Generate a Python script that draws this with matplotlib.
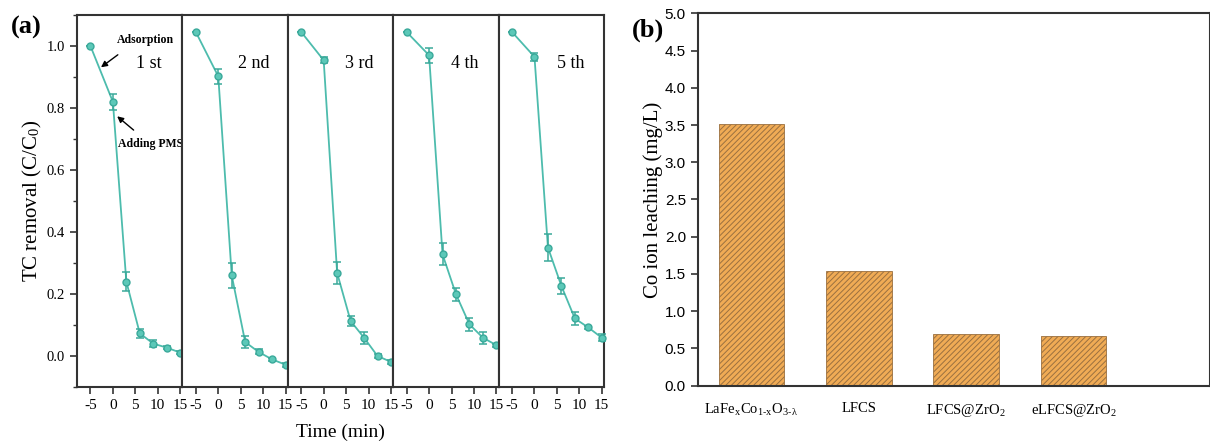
import matplotlib
matplotlib.use('Agg')
import matplotlib.pyplot as plt
import numpy as np

plt.rcParams['font.family'] = ['Liberation Serif', 'DejaVu Serif']
plt.rcParams['mathtext.fontset'] = 'stix'
plt.rcParams['axes.unicode_minus'] = False
plt.rcParams['hatch.color'] = '#d8903e'
plt.rcParams['hatch.linewidth'] = 0.7

# (a) cycling data
times = [-5, 0, 3, 6, 9, 12, 15]
cycle_labels = ['1 st', '2 nd', '3 rd', '4 th', '5 th']
run1 = [1.0, 0.82, 0.24, 0.073, 0.04, 0.027, 0.011]
run2 = [1.045, 0.902, 0.26, 0.045, 0.013, -0.011, -0.028]
run3 = [1.045, 0.954, 0.268, 0.113, 0.059, 0.0, -0.019]
run4 = [1.045, 0.97, 0.328, 0.199, 0.102, 0.059, 0.035]
run5 = [1.045, 0.965, 0.35, 0.226, 0.121, 0.092, 0.059]
err1 = [0.0, 0.025, 0.03, 0.015, 0.012, 0.005, 0.005]
err2 = [0.0, 0.025, 0.04, 0.02, 0.008, 0.005, 0.007]
err3 = [0.0, 0.01, 0.035, 0.015, 0.02, 0.005, 0.007]
err4 = [0.0, 0.025, 0.035, 0.02, 0.02, 0.02, 0.005]
err5 = [0.0, 0.012, 0.045, 0.025, 0.02, 0.005, 0.012]
runs = [run1, run2, run3, run4, run5]
errs = [err1, err2, err3, err4, err5]

# (b) leaching data
catalysts = [r'LaFe$_\mathregular{x}$Co$_\mathregular{1\text{-}x}$O$_\mathregular{3\text{-}\lambda}$',
             'LFCS', r'LFCS@ZrO$_\mathregular{2}$', r'eLFCS@ZrO$_\mathregular{2}$']
leaching = [3.51, 1.54, 0.70, 0.67]

line_col = '#4dbcad'
mk_col = '#3aa99a'
spine_col = '#333333'

fig = plt.figure(figsize=(12.1, 4.41), dpi=100)

left0 = 77 / 1210
pw = 105.4 / 1210
bot = 1 - 387 / 441
h = (387 - 15) / 441

axes_a = []
for i in range(5):
	ax = fig.add_axes([left0 + i * pw, bot, pw, h])
	ax.plot(times, runs[i], color=line_col, lw=1.3, zorder=2)
	ax.errorbar(times, runs[i], yerr=errs[i], fmt='o', color=mk_col, ms=5,
		mfc='#5cc8b8', mec=mk_col, ecolor=mk_col, elinewidth=1.1, capsize=3, capthick=1.1,
		clip_on=False, zorder=3)
	ax.set_xlim(-8, 15.5)
	ax.set_ylim(-0.1, 1.1)
	ax.set_xticks([-5, 0, 5, 10, 15])
	ax.tick_params(axis='x', direction='out', length=5, width=1.2, labelsize=11, colors=spine_col, labelcolor='black')
	if i == 0:
		ax.set_yticks(np.arange(0, 1.01, 0.2))
		ax.set_yticks(np.arange(-0.1, 1.1, 0.2), minor=True)
		ax.tick_params(axis='y', which='major', direction='out', length=5, width=1.2, labelsize=10.5, colors=spine_col, labelcolor='black')
		ax.tick_params(axis='y', which='minor', direction='out', length=3, width=1.0, colors=spine_col)
		ax.set_yticklabels(['%.1f' % v for v in np.arange(0, 1.01, 0.2)])
		ax.set_ylabel(r'TC removal (C/C$_\mathregular{0}$)', fontsize=15, labelpad=2)
	else:
		ax.set_yticks([])
	for s in ax.spines.values():
		s.set_linewidth(1.5)
		s.set_color(spine_col)
	ax.text(0.68, 0.87, cycle_labels[i], transform=ax.transAxes, ha='center', va='center', fontsize=13)
	axes_a.append(ax)

ax1 = axes_a[0]
ax1.text(7.2, 1.02, 'Adsorption', fontsize=8.5, fontweight='bold', ha='center', va='center')
ax1.annotate('', xy=(-3.15, 0.926), xytext=(1.6, 0.977),
	arrowprops=dict(arrowstyle='-|>', color='black', lw=1.0, mutation_scale=9))
ax1.text(8.3, 0.683, 'Adding PMS', fontsize=8.5, fontweight='bold', ha='center', va='center', clip_on=False)
ax1.annotate('', xy=(0.48, 0.779), xytext=(5.1, 0.723),
	arrowprops=dict(arrowstyle='-|>', color='black', lw=1.0, mutation_scale=9))

fig.text(340 / 1210, 1 - 432 / 441, 'Time (min)', ha='center', va='center', fontsize=14)
fig.text(26 / 1210, 1 - 27 / 441, '(a)', ha='center', va='center', fontsize=19, fontweight='bold')

# (b)
axb = fig.add_axes([697.7 / 1210, 1 - 385.7 / 441, 1 - 697.7 / 1210, (385.7 - 13.3) / 441])
xpos = np.arange(len(catalysts))
axb.bar(xpos, leaching, width=0.61, color='#f0ab55', edgecolor='#9a7040', linewidth=0.6,
	hatch='//////')
axb.set_xlim(-0.5, 4.27)
axb.set_ylim(0, 5.0)
axb.set_yticks(np.arange(0, 5.01, 0.5))
axb.set_yticklabels(['%.1f' % v for v in np.arange(0, 5.01, 0.5)], family='Liberation Sans')
axb.tick_params(axis='y', direction='out', length=5, width=1.2, labelsize=11, colors=spine_col, labelcolor='black')
axb.set_xticks(xpos)
axb.set_xticklabels(catalysts, fontsize=10.5)
axb.tick_params(axis='x', length=0, pad=12)
axb.set_ylabel('Co ion leaching (mg/L)', fontsize=15, labelpad=1)
for s in axb.spines.values():
	s.set_linewidth(1.5)
	s.set_color(spine_col)
fig.text(648 / 1210, 1 - 30 / 441, '(b)', ha='center', va='center', fontsize=19, fontweight='bold')

plt.savefig('out.png', dpi=100)
